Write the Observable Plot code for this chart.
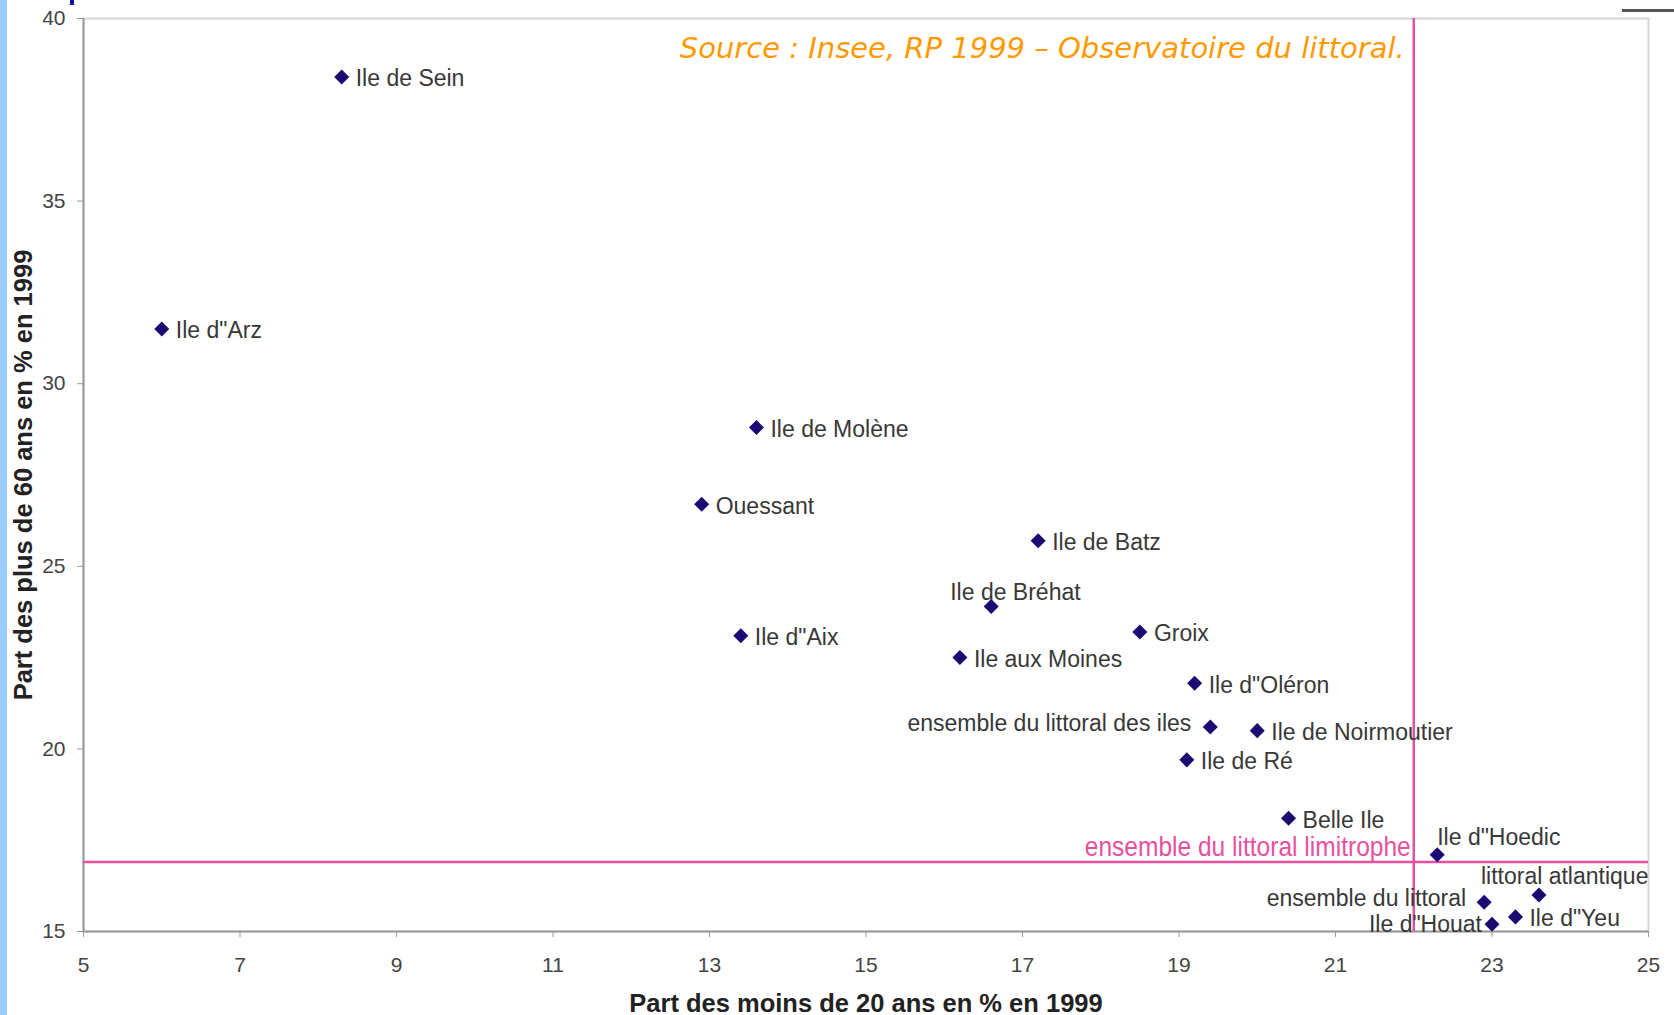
<!DOCTYPE html>
<html>
<head>
<meta charset="utf-8">
<script src="https://cdn.jsdelivr.net/npm/d3@7"></script>
<script src="https://cdn.jsdelivr.net/npm/@observablehq/plot@0.6"></script>
<style>
  html, body { margin: 0; padding: 0; background: #fff; overflow: hidden; }
  #wrap { position: relative; width: 1674px; height: 1015px; }
  #chart svg { display: block; }
  #strip { position: absolute; left: 0; top: 0; width: 7px; height: 1015px; background: #99ccff; }
  #blueTick { position: absolute; left: 70px; top: 0; width: 4px; height: 5px; background: #1010b0; }
  #grayBar { position: absolute; left: 1622px; top: 9px; width: 52px; height: 3px; background: #555; }
</style>
</head>
<body>
<div id="wrap">
  <div id="chart"></div>
  <div id="strip"></div>
  <div id="blueTick"></div>
  <div id="grayBar"></div>
</div>
<script>
// ---- Data ----
const names = [
  "Ile de Sein", "Ile d\"Arz", "Ile de Molène", "Ouessant", "Ile de Batz",
  "Ile de Bréhat", "Ile d\"Aix", "Ile aux Moines", "Groix", "Ile d\"Oléron",
  "ensemble du littoral des iles", "Ile de Noirmoutier", "Ile de Ré", "Belle Ile",
  "Ile d\"Hoedic", "littoral atlantique", "ensemble du littoral", "Ile d\"Yeu", "Ile d\"Houat"
];
const pctUnder20 = [8.3, 6.0, 13.6, 12.9, 17.2, 16.6, 13.4, 16.2, 18.5, 19.2, 19.4, 20.0, 19.1, 20.4, 22.3, 23.6, 22.9, 23.3, 23.0];
const pctOver60  = [38.4, 31.5, 28.8, 26.7, 25.7, 23.9, 23.1, 22.5, 23.2, 21.8, 20.6, 20.5, 19.7, 18.1, 17.1, 16.0, 15.8, 15.4, 15.2];

const refUnder20 = 22.0;   // ensemble du littoral limitrophe (moins de 20 ans)
const refOver60 = 16.9;    // ensemble du littoral limitrophe (plus de 60 ans)
const refLabel = "ensemble du littoral limitrophe";

const xTicks = [5, 7, 9, 11, 13, 15, 17, 19, 21, 23, 25];
const yTicks = [15, 20, 25, 30, 35, 40];
const xTitle = "Part des moins de 20 ans en % en 1999";
const yTitle = "Part des plus de 60 ans en % en 1999";
const sourceText = "Source : Insee, RP 1999 – Observatoire du littoral.";

// ---- Label placement (layout only) ----
const defaultPlacement = {anchor: "start", dx: 14, dy: 2};
const labelPlacement = {
  "Ile de Bréhat": {anchor: "start", dx: -41, dy: -14},
  "ensemble du littoral des iles": {anchor: "end", dx: -19, dy: -3},
  "Ile d\"Hoedic": {anchor: "start", dx: 0, dy: -17},
  "littoral atlantique": {anchor: "start", dx: -58, dy: -18},
  "ensemble du littoral": {anchor: "end", dx: -18, dy: -4},
  "Ile d\"Houat": {anchor: "end", dx: -10, dy: 0}
};

const data = names.map((name, i) => ({name, x: pctUnder20[i], y: pctOver60[i]}));

const font = "'Liberation Sans', Arial, sans-serif";
const labelMarks = data.map(d => {
  const p = labelPlacement[d.name] || defaultPlacement;
  return Plot.text([d], {
    x: "x", y: "y", text: "name",
    textAnchor: p.anchor, dx: p.dx, dy: p.dy,
    fill: "#383838", fontSize: 23, fontFamily: font
  });
});

const chart = Plot.plot({
  width: 1674,
  height: 1015,
  marginLeft: 83,
  marginRight: 26,
  marginTop: 18,
  marginBottom: 84,
  style: {fontFamily: font, background: "transparent"},
  x: {domain: [5, 25]},
  y: {domain: [15, 40]},
  marks: [
    Plot.frame({stroke: "#d6d6d6", strokeWidth: 2}),
    Plot.axisX({ticks: xTicks, tickSize: 6, tickPadding: 20, fontSize: 21, stroke: "#999", fill: "#444", label: null}),
    Plot.axisY({ticks: yTicks, tickSize: 6, tickPadding: 12, fontSize: 21, stroke: "#999", fill: "#444", label: null}),
    Plot.ruleX([5], {stroke: "#9a9a9a", strokeWidth: 2}),
    Plot.ruleY([15], {stroke: "#9a9a9a", strokeWidth: 2}),
    Plot.ruleX([refUnder20], {stroke: "#e6519f", strokeWidth: 2.5}),
    Plot.ruleY([refOver60], {stroke: "#e6519f", strokeWidth: 2.5}),
    Plot.text([refLabel], {
      x: [refUnder20], y: [refOver60], text: d => d,
      textAnchor: "end", dx: -3, dy: -15,
      fill: "#e6519f", fontSize: 28,
      fontFamily: "'Liberation Sans Narrow', 'Arial Narrow', 'Liberation Sans', sans-serif"
    }),
    Plot.text([sourceText], {
      x: [refUnder20], frameAnchor: "top", text: d => d,
      textAnchor: "end", dx: -9, dy: 19,
      fill: "#ff9900", fontSize: 29, fontStyle: "italic",
      fontFamily: "'DejaVu Sans', Verdana, sans-serif"
    }),
    Plot.dot(data, {x: "x", y: "y", symbol: "square", r: 6, rotate: 45, fill: "#1a0a72", stroke: null}),
    ...labelMarks,
    Plot.text([xTitle], {
      frameAnchor: "bottom", text: d => d, dy: 80, textAnchor: "middle",
      fontSize: 25.5, fontWeight: "bold", fill: "#222", fontFamily: font
    }),
    Plot.text([yTitle], {
      frameAnchor: "left", text: d => d, dx: -60, rotate: -90, textAnchor: "middle",
      fontSize: 25.5, fontWeight: "bold", fill: "#222", fontFamily: font
    })
  ]
});
document.getElementById("chart").appendChild(chart);

// Condense the reference-line label to the narrow width seen in the original
chart.querySelectorAll("text").forEach(t => {
  if (t.textContent === refLabel) {
    t.setAttribute("textLength", 326);
    t.setAttribute("lengthAdjust", "spacingAndGlyphs");
  }
});
</script>
</body>
</html>
